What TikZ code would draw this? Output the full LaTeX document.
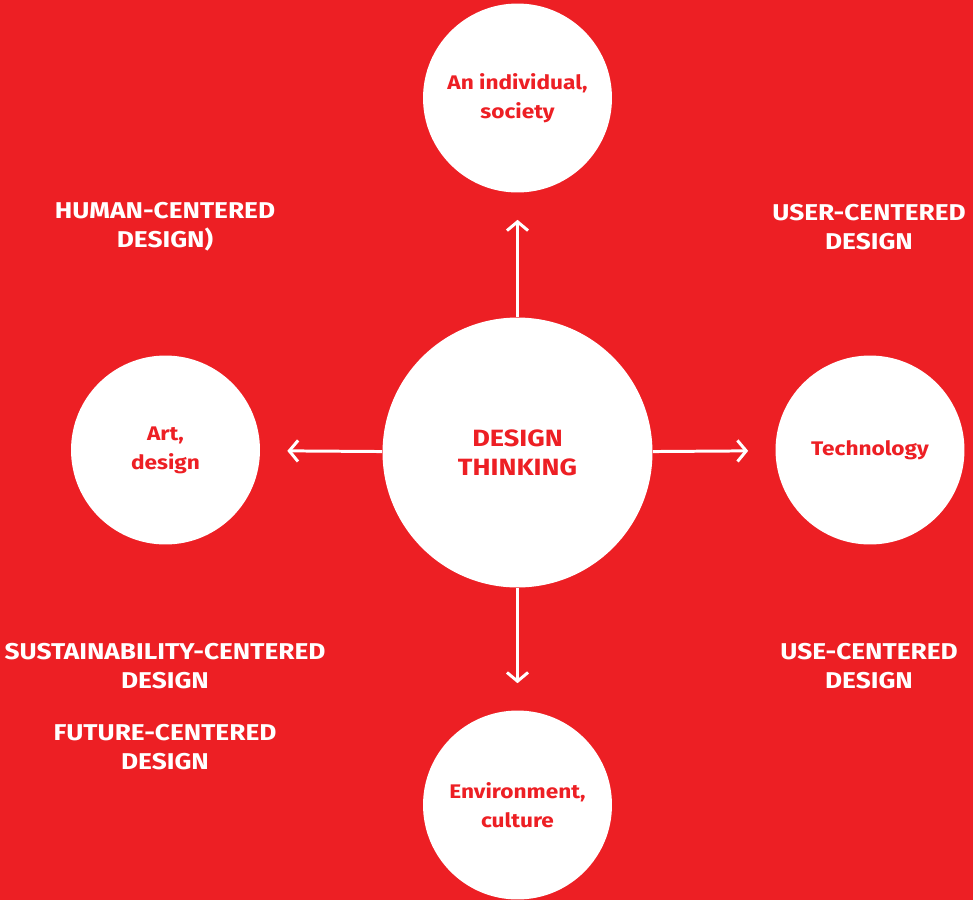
\documentclass[tikz,border=0pt]{standalone}
\usepackage{fontspec}
\setmainfont[FakeStretch=1.15]{Fira Sans}
\usetikzlibrary{positioning}
\usetikzlibrary{arrows.meta}
\definecolor{dtred}{HTML}{ED1F24}

\begin{document}
\begin{tikzpicture}
[x=0.02cm,y=-0.02cm,
 circ/.style={shape=circle,fill=white,inner sep=0pt,text=dtred,align=center,
   font=\bfseries\fontsize{11.2}{16.5}\selectfont},
 bigcirc/.style={circ,minimum size=5.4cm,font=\bfseries\fontsize{13.4}{16.5}\selectfont},
 smallcirc/.style={circ,minimum size=3.78cm},
 label/.style={text=white,align=center,font=\bfseries\fontsize{13}{16.5}\selectfont},
 outarrow/.style={white,line width=1.7pt,-{Straight Barb[length=5pt,width=12pt,line width=1.7pt]},
   shorten >=0.54cm}]

\fill[dtred] (0,0) rectangle (973,900);
\useasboundingbox (0,0) rectangle (973,900);

\node (dt) [bigcirc] at (517.5,452.5) {DESIGN\\THINKING};

\node (society) [smallcirc] at (517.5,98) {An individual,\\society};
\node (art) [smallcirc] at (165.5,450) {Art,\\design};
\node (tech) [smallcirc] at (870,450) {Technology};
\node (env) [smallcirc] at (517.5,805) {Environment,\\culture};

\draw [outarrow] (dt) -- (society);
\draw [outarrow] (dt) -- (art);
\draw [outarrow] (dt) -- (tech);
\draw [outarrow] (dt) -- (env);

\node (human) [label] at (165,227) {HUMAN-CENTERED\\DESIGN)};
\node (user) [label] at (869,227) {USER-CENTERED\\DESIGN};
\node (sust) [label] at (165,666) {SUSTAINABILITY-CENTERED\\DESIGN};
\node (future) [label] at (165,747) {FUTURE-CENTERED\\DESIGN};
\node (use) [label] at (869,666) {USE-CENTERED\\DESIGN};
\end{tikzpicture}
\end{document}
